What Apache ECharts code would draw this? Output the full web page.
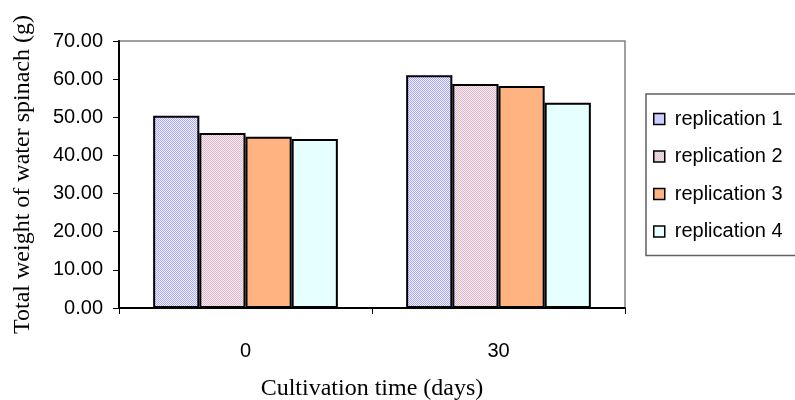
<!DOCTYPE html>
<html>
<head>
<meta charset="utf-8">
<script src="https://cdn.jsdelivr.net/npm/echarts@6/dist/echarts.min.js"></script>
<style>
  html, body { margin: 0; padding: 0; background: #fff; overflow: hidden; }
  #chart { width: 795px; height: 400px; }
</style>
</head>
<body>
<div id="chart"></div>
<script>
// Cultivation times (days) on the category axis
const days = ['0', '30'];
// Replicate weights (g) at each cultivation time
const replication1 = [50.4, 61.0];
const replication2 = [45.9, 58.7];
const replication3 = [44.9, 58.2];
const replication4 = [44.3, 53.8];
const seriesNames = ['replication 1', 'replication 2', 'replication 3', 'replication 4'];
const yTicks = [0, 10, 20, 30, 40, 50, 60, 70];

// Small checkerboard tile used as a dithered fill
function checker(a, b) {
  const c = document.createElement('canvas');
  c.width = 2; c.height = 2;
  const g = c.getContext('2d');
  g.fillStyle = b; g.fillRect(0, 0, 2, 2);
  g.fillStyle = a; g.fillRect(0, 0, 1, 1); g.fillRect(1, 1, 1, 1);
  return { image: c, repeat: 'repeat' };
}

const fills = [
  checker('#a8a8ff', '#f2f2ff'),
  checker('#dcbccc', '#f6eaee'),
  '#ffb380',
  '#e6ffff'
];
const values = [replication1, replication2, replication3, replication4];

const chart = echarts.init(document.getElementById('chart'), null, { renderer: 'canvas' });
chart.setOption({
  animation: false,
  backgroundColor: '#ffffff',
  grid: {
    left: 119, right: 170, top: 41, bottom: 92,
    outerBoundsMode: 'none',
    containLabel: false,
    show: true, borderColor: '#808080', borderWidth: 1.5, backgroundColor: 'transparent'
  },
  legend: {
    orient: 'vertical',
    left: 646, top: 94,
    padding: [15, 28, 14, 7],
    itemGap: 17.5,
    itemWidth: 11, itemHeight: 11,
    icon: 'rect',
    borderColor: '#606060', borderWidth: 1.5,
    backgroundColor: '#ffffff',
    itemStyle: { borderColor: '#000', borderWidth: 1.5 },
    textStyle: { fontFamily: 'Liberation Sans, Arial, sans-serif', fontSize: 20, color: '#000', padding: [0, 0, 0, 5] },
    data: seriesNames
  },
  xAxis: {
    type: 'category',
    data: days,
    name: 'Cultivation time (days)',
    nameLocation: 'middle',
    nameGap: 69,
    nameTextStyle: { fontFamily: 'Liberation Serif, Times New Roman, serif', fontSize: 24, color: '#000' },
    axisLine: { lineStyle: { color: '#000', width: 2 } },
    axisTick: { show: true, length: 6, lineStyle: { color: '#000', width: 1 } },
    axisLabel: { margin: 33, fontFamily: 'Liberation Sans, Arial, sans-serif', fontSize: 20, color: '#000' }
  },
  yAxis: {
    type: 'value',
    min: yTicks[0], max: yTicks[yTicks.length - 1], interval: 10,
    name: 'Total weight of water spinach (g)',
    nameLocation: 'middle',
    nameGap: 84,
    nameTextStyle: { fontFamily: 'Liberation Serif, Times New Roman, serif', fontSize: 24, color: '#000' },
    splitLine: { show: false },
    axisLine: { show: true, lineStyle: { color: '#000', width: 2 } },
    axisTick: { show: true, length: 6, lineStyle: { color: '#000', width: 1 } },
    axisLabel: {
      margin: 16,
      fontFamily: 'Liberation Sans, Arial, sans-serif', fontSize: 20, color: '#000',
      formatter: v => v.toFixed(2)
    }
  },
  series: seriesNames.map((name, i) => ({
    name: name,
    type: 'bar',
    data: values[i],
    barGap: '0%',
    barCategoryGap: '27%',
    itemStyle: { color: fills[i], borderColor: '#000', borderWidth: 2 }
  }))
});
</script>
</body>
</html>
